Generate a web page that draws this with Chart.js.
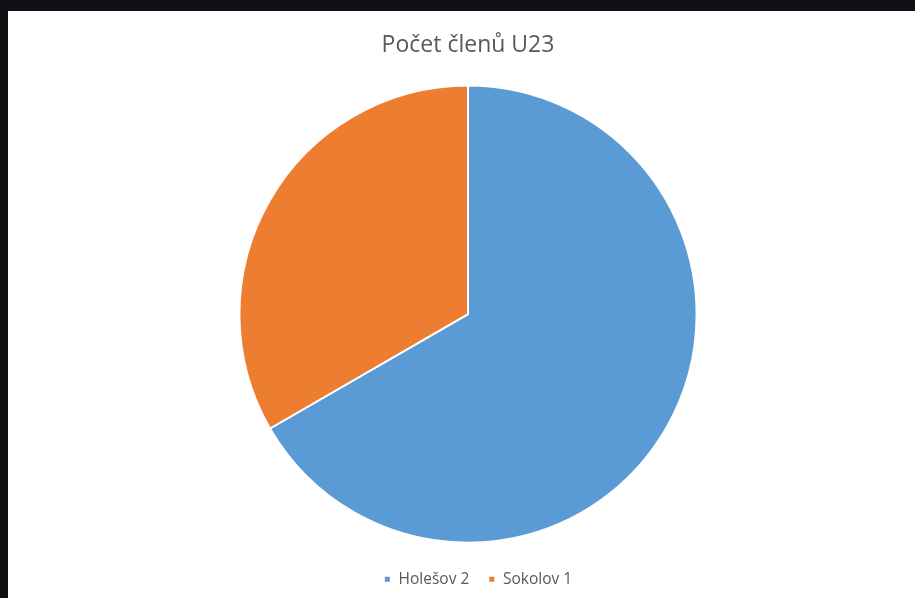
<!DOCTYPE html>
<html>
<head>
<meta charset="utf-8">
<script src="https://cdn.jsdelivr.net/npm/chart.js@4"></script>
<style>
  html, body { margin: 0; padding: 0; background: #0f0f14; width: 915px; height: 598px; overflow: hidden; }
  #wrap { position: absolute; left: 8px; top: 11px; width: 907px; height: 587px; background: #ffffff; }
</style>
</head>
<body>
<div id="wrap"><canvas id="c"></canvas></div>
<script>
const titleText = "Počet členů U23";
const categories = ["Holešov 2", "Sokolov 1"];
const values = [2, 1];
const colors = ["#5B9BD5", "#ED7D31"];

const shiftLegend = {
  id: "shiftLegend",
  afterLayout(chart) {
    if (chart.legend) { chart.legend.left += 10; chart.legend.right += 10; }
  }
};

new Chart(document.getElementById("c"), {
  type: "pie",
  data: {
    labels: categories,
    datasets: [{
      data: values,
      backgroundColor: colors,
      borderColor: "#ffffff",
      borderWidth: 2
    }]
  },
  plugins: [shiftLegend],
  options: {
    responsive: true,
    maintainAspectRatio: false,
    animation: false,
    layout: { padding: { left: 13, top: 0, bottom: 1 } },
    plugins: {
      title: {
        display: true,
        text: titleText,
        color: "#595959",
        font: { family: "'Open Sans', sans-serif", size: 23, weight: "normal" },
        padding: { top: 21, bottom: 25 }
      },
      legend: {
        position: "bottom",
        title: {
          display: true,
          text: " ",
          font: { size: 5 },
          padding: { top: 2.7, bottom: 0 }
        },
        labels: {
          color: "#595959",
          font: { family: "'Open Sans', sans-serif", size: 15.5 },
          boxWidth: 7,
          boxHeight: 7,
          padding: 19
        }
      },
      tooltip: { enabled: false }
    }
  }
});
</script>
</body>
</html>
